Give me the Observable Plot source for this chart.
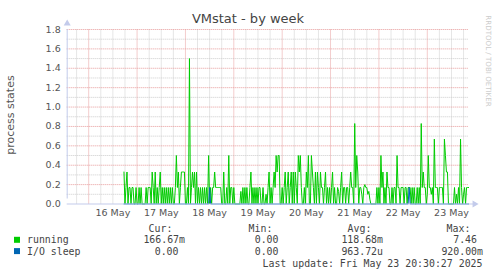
<!DOCTYPE html>
<html><head><meta charset="utf-8">
<script src="https://cdn.jsdelivr.net/npm/d3@7"></script>
<script src="https://cdn.jsdelivr.net/npm/@observablehq/plot@0.6"></script>
<style>
body{margin:0;background:#fff;}
#wrap{position:relative;width:497px;height:276px;overflow:hidden;background:#fff;}
#wrap svg{position:absolute;left:0;top:0;}
</style></head><body><div id="wrap"></div>
<script>
// ---- data (30-minute samples) ----
const dayStarts = ["2025-05-16T17:30:00Z","2025-05-17T00:00:00Z","2025-05-18T00:00:00Z","2025-05-19T00:00:00Z","2025-05-20T00:00:00Z","2025-05-21T00:00:00Z","2025-05-22T00:00:00Z","2025-05-23T00:00:00Z"];
const running16 = [0.33,0,0.17,0.33,0,0.17,0.17,0,0.17,0.17,0,0,0.17];
const running17 = [0,0,0.17,0,0.17,0,0,0,0,0.17, 0,0.17,0.17,0.17,0,0.33,0.17,0,0.33,0, 0.17,0,0.17,0.33,0,0.17,0,0.17,0,0.17, 0,0.17,0,0.17,0,0.17,0,0,0.17,0.5, 0.17,0.33,0,0.17,0.33,0.33,0.33,0.33];
const running18 = [0,0,0.17,0,1.5,0,0.17,0.33,0.17,0.33, 0,0.33,0,0.17,0,0.17,0,0.17,0,0.17, 0,0.17,0,0.5,0,0.17,0,0.17,0.17,0.33, 0.17,0.17,0.17,0.17,0.17,0.17,0,0,0.33,0, 0,0.17,0,0.5,0,0.17,0.17,0];
const running19 = [0.17,0,0,0,0,0,0,0.13,0,0.17, 0,0.17,0,0.17,0,0,0.17,0.33,0,0.17, 0,0.17,0,0.17,0,0.17,0.17,0,0,0.17, 0,0,0.1,0,0.17,0.33,0,0.17,0,0.17, 0.33,0.17,0.5,0.33,0.5,0.5,0,0];
const running20 = [0.17,0,0.17,0.33,0,0.17,0.33,0,0.17,0.33, 0,0.33,0,0.33,0.17,0,0.5,0.33,0.5,0.17, 0,0,0.17,0,0.33,0.17,0.5,0,0,0.5, 0.33,0.17,0,0.33,0,0.33,0.17,0,0.33,0.17, 0.17,0,0.17,0.33,0,0.17,0,0.17];
const running21 = [0,0.17,0.33,0,0.17,0,0,0.17,0.13,0, 0.17,0.33,0,0.17,0.17,0,0.17,0.17,0,0.17, 0.33,0.17,0.17,0,0.83,0.17,0.5,0.33,0,0.17, 0.17,0.1,0,0.17,0.2,0.17,0.17,0.1,0.13,0.05, 0,0,0,0,0,0,0.17,0];
const running22 = [0.17,0,0.5,0.17,0.33,0,0.17,0,0.33,0.17, 0.17,0,0,0.17,0,0.17,0.17,0,0.5,0.17, 0.17,0,0.17,0.17,0.17,0,0.17,0.17,0,0.17, 0.17,0.17,0,0.17,0,0.17,0,0,0.17,0, 0.17,0,0.83,0.17,0.33,0.17,0.17,0];
const running23 = [0.1,0.5,0.17,0.17,0.1,0.17,0,0.67,0.17,0.17, 0.17,0,0.17,0.17,0.17,0.17,0,0.67,0.5,0.33, 0.33,0,0,0,0,0,0,0.17,0,0.1, 0,0.17,0,0.67,0.17,0,0.1,0.17,0,0.17, 0.17,0.17];
const runningByDay = [running16,running17,running18,running19,running20,running21,running22,running23];
const ioSleepTimes = ["2025-05-18T12:00:00Z","2025-05-22T15:00:00Z"];
const ioSleepValues = [0.17,0.17];

const xStart = new Date("2025-05-15T13:20:00Z"), xEnd = new Date("2025-05-23T20:30:00Z");
const dayLabels = ["16 May","17 May","18 May","19 May","20 May","21 May","22 May","23 May"];
const dayLabelDates = ["2025-05-16T12:00:00Z","2025-05-17T12:00:00Z","2025-05-18T12:00:00Z","2025-05-19T12:00:00Z","2025-05-20T12:00:00Z","2025-05-21T12:00:00Z","2025-05-22T12:00:00Z","2025-05-23T12:00:00Z"].map(s=>new Date(s));
const yTicks = [0,0.2,0.4,0.6,0.8,1.0,1.2,1.4,1.6,1.8];
const yTickLabels = ["0.0","0.2","0.4","0.6","0.8","1.0","1.2","1.4","1.6","1.8"];
const legendNames = ["running","I/O sleep"];
const legendColors = ["#00cc00","#0066b3"];
const curValues = ["166.67m","0.00"];
const minValues = ["0.00","0.00"];
const avgValues = ["118.68m","963.72u"];
const maxValues = ["7.46","920.00m"];
const lastUpdate = "Last update: Fri May 23 20:30:27 2025";

// ---- build series ----
const HALF = 30*60*1000;
const runningData = [];
dayStarts.forEach((s,d)=>{ const t0=new Date(s).getTime(); runningByDay[d].forEach((v,i)=>runningData.push({t:new Date(t0+i*HALF), v})); });
const ioMap = new Map(ioSleepTimes.map((s,i)=>[new Date(s).getTime(), ioSleepValues[i]]));
const ioData = runningData.map(d=>({t:d.t, v: ioMap.get(d.t.getTime()) ?? 0}));

const midnights = d3.utcDay.range(d3.utcDay.ceil(xStart), xEnd);
const sixHours = d3.utcHour.every(6).range(xStart, xEnd).filter(d=>d.getUTCHours()!==0);
const yMinor = [0.1,0.3,0.5,0.7,0.9,1.1,1.3,1.5,1.7];
const yMajor = yTicks.slice(1);

const grey="#cccccc", red="#e79a9a", axisCol="#c3cbeb";
const chart = Plot.plot({
  width:497, height:222,
  marginLeft:66.7, marginRight:28.9, marginTop:29, marginBottom:18.5,
  style:{fontFamily:"DejaVu Sans", fontSize:"9.5px", color:"#555", background:"transparent"},
  x:{type:"utc", domain:[xStart,xEnd], label:null},
  y:{domain:[0,1.8], label:null},
  marks:[
    Plot.ruleY(yMinor,{stroke:grey, strokeDasharray:"1,1"}),
    Plot.ruleX(sixHours,{y1:0,y2:1.8,stroke:grey, strokeDasharray:"1,1"}),
    Plot.ruleY(yMajor,{stroke:red, strokeDasharray:"1,1"}),
    Plot.ruleX(midnights,{y1:0,y2:1.8,stroke:red, strokeDasharray:"1,1"}),
    Plot.line(runningData,{x:"t",y:"v",stroke:legendColors[0],strokeWidth:1}),
    Plot.line(ioData,{x:"t",y:"v",stroke:legendColors[1],strokeWidth:1}),
    Plot.ruleY([0],{stroke:axisCol, insetRight:-5}),
    Plot.ruleX([xStart],{y1:0,y2:1.8,stroke:axisCol, insetTop:-5}),
    Plot.dot([xEnd],{x:d=>d,y:()=>0,symbol:"triangle",rotate:90,r:2.6,fill:axisCol,stroke:"none",dx:6}),
    Plot.dot([xStart],{x:d=>d,y:()=>1.8,symbol:"triangle",r:2.6,fill:axisCol,stroke:"none",dy:-6}),
    Plot.axisY({ticks:yTicks, tickFormat:d=>yTickLabels[yTicks.indexOf(d)], tickSize:0, tickPadding:6.5, label:null}),
    Plot.axisX({ticks:dayLabelDates, tickFormat:d=>dayLabels[dayLabelDates.findIndex(e=>+e===+d)], tickSize:0, tickPadding:5, label:null})
  ]
});
const wrap = document.getElementById("wrap");
wrap.appendChild(chart);

// ---- text overlay: title, axis label, watermark, legend ----
const svg = d3.select(wrap).append("svg").attr("width",497).attr("height",276).style("pointer-events","none");
svg.append("text").attr("x",248).attr("y",22.5).attr("text-anchor","middle")
  .attr("font-family","DejaVu Sans").attr("font-size",13).attr("fill","#444").text("VMstat - by week");
svg.append("text").attr("transform","translate(13.5,115) rotate(-90)").attr("text-anchor","middle")
  .attr("font-family","DejaVu Sans").attr("font-size",11).attr("fill","#555").text("process states");
svg.append("text").attr("transform","translate(486,61) rotate(90)").attr("text-anchor","middle")
  .attr("font-family","DejaVu Sans").attr("font-size",7.1).attr("fill","#cccccc").text("RRDTOOL / TOBI OETIKER");

const mono = (x,y,txt,anchor)=>svg.append("text").attr("x",x).attr("y",y).attr("text-anchor",anchor||"start")
  .attr("font-family","DejaVu Sans Mono").attr("font-size",9.9).attr("fill","#444").style("white-space","pre").text(txt);
mono(160.5,231.7,"Cur:","middle"); mono(260.5,231.7,"Min:","middle"); mono(359.5,231.7,"Avg:","middle"); mono(458.5,231.7,"Max:","middle");
const rowY=[243.3,254.6];
const curEnds=[185,178.5], maxEnds=[477,483];
legendNames.forEach((n,i)=>{
  svg.append("rect").attr("x",14).attr("y",rowY[i]-6.5).attr("width",6).attr("height",6).attr("fill",legendColors[i]);
  mono(27,rowY[i],n);
  mono(curEnds[i],rowY[i],curValues[i],"end");
  mono(278.5,rowY[i],minValues[i],"end");
  mono(383,rowY[i],avgValues[i],"end");
  mono(maxEnds[i],rowY[i],maxValues[i],"end");
});
mono(482.5,267,lastUpdate,"end");
</script></body></html>
